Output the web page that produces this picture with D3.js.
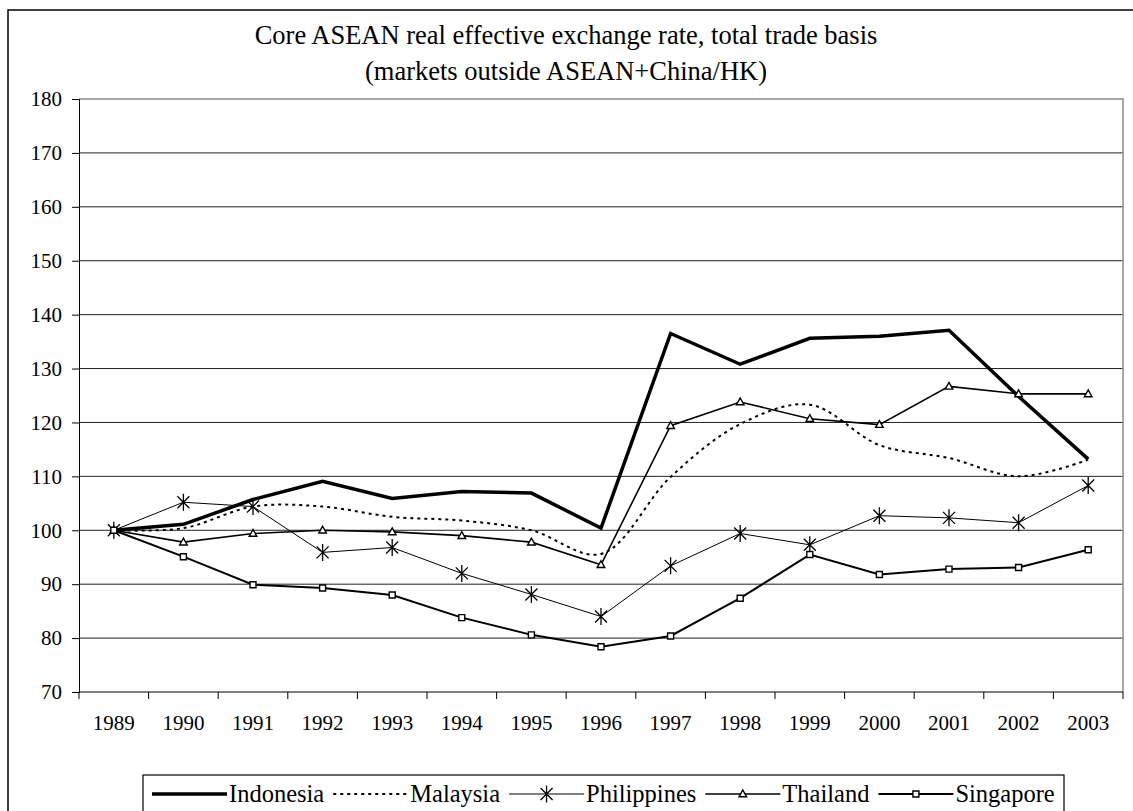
<!DOCTYPE html>
<html><head><meta charset="utf-8">
<script src="https://cdn.jsdelivr.net/npm/d3@7"></script>
<style>
body{margin:0;background:#fff}
text{font-family:"Liberation Serif","Times New Roman",serif;fill:#000}
</style>
</head><body>
<svg id="chart" width="1133" height="811"></svg>
<script>
const years = [1989,1990,1991,1992,1993,1994,1995,1996,1997,1998,1999,2000,2001,2002,2003];
const indonesia   = [100,101.1,105.7,109.1,105.9,107.2,106.9,100.4,136.5,130.8,135.6,136.0,137.1,124.8,113.2];
const malaysia    = [100,100.4,104.4,104.4,102.5,101.8,100.0,95.6,109.9,119.7,123.3,115.8,113.4,110.0,113.1];
const philippines = [100,105.2,104.4,95.9,96.8,92.0,88.1,84.0,93.4,99.4,97.3,102.7,102.3,101.4,108.3];
const thailand    = [100,97.8,99.4,100.0,99.7,99.0,97.8,93.6,119.4,123.8,120.7,119.6,126.7,125.3,125.3];
const singapore   = [100,95.1,89.9,89.3,88.0,83.8,80.6,78.4,80.4,87.4,95.5,91.8,92.8,93.1,96.4];
const yTicks = [70,80,90,100,110,120,130,140,150,160,170,180];
const titleLines = ["Core ASEAN real effective exchange rate, total trade basis","(markets outside ASEAN+China/HK)"];
const seriesNames = ["Indonesia","Malaysia","Philippines","Thailand","Singapore"];

const svg = d3.select("#chart");
const L = 79, R = 1123, T = 99, B = 692;

// outer frame
svg.append("rect").attr("x",8).attr("y",10).attr("width",1150).attr("height",830)
  .attr("fill","none").attr("stroke","#000").attr("stroke-width",1.5);

const x = d3.scaleBand().domain(years).range([L,R]);
const y = d3.scaleLinear().domain([70,180]).range([B,T]);
const cx = d => x(d) + x.bandwidth()/2;

// gridlines
svg.append("g").selectAll("line").data(yTicks.filter(v=>v>70 && v<180)).join("line")
  .attr("x1",L).attr("x2",R).attr("y1",d=>y(d)).attr("y2",d=>y(d))
  .attr("stroke","#222").attr("stroke-width",1);
// top & right border (gray)
svg.append("path").attr("d",`M${L},${y(180)}H${R}V${B}`).attr("fill","none").attr("stroke","#8c8c8c").attr("stroke-width",1.5);

// y axis
const yAxis = svg.append("g").attr("transform",`translate(${L},0)`)
  .call(d3.axisLeft(y).tickValues(yTicks).tickSize(7).tickPadding(10).tickFormat(d3.format("d")));
yAxis.select(".domain").attr("stroke","#000");
yAxis.selectAll(".tick line").attr("stroke","#000");
yAxis.selectAll("text").style("font-family",'"Liberation Serif",serif').style("font-size","21px").attr("fill","#000");

// x axis
svg.append("line").attr("x1",L).attr("x2",R).attr("y1",B).attr("y2",B).attr("stroke","#000");
const bounds = years.map(d=>x(d)).concat([R]);
svg.append("g").selectAll("line").data(bounds).join("line")
  .attr("x1",d=>d).attr("x2",d=>d).attr("y1",B).attr("y2",B+7).attr("stroke","#000");
svg.append("g").selectAll("text").data(years).join("text")
  .attr("x",d=>cx(d)).attr("y",730).attr("text-anchor","middle")
  .style("font-size","21px").text(d=>d);

// title
svg.append("g").selectAll("text").data(titleLines).join("text")
  .attr("x",566).attr("y",(d,i)=>44+i*36).attr("text-anchor","middle")
  .style("font-size","26.5px").text(d=>d);

const mk = (vals) => years.map((yr,i)=>({yr, v: vals[i]}));
const lineGen = d3.line().x(d=>cx(d.yr)).y(d=>y(d.v));
const smoothGen = d3.line().x(d=>cx(d.yr)).y(d=>y(d.v)).curve(d3.curveCatmullRom.alpha(0.5));

const styles = {
  Indonesia:{w:3.5,dash:null,marker:null,gen:lineGen,data:indonesia},
  Malaysia:{w:2,dash:"3,4",marker:null,gen:smoothGen,data:malaysia},
  Philippines:{w:1,dash:null,marker:"star",gen:lineGen,data:philippines},
  Thailand:{w:1.6,dash:null,marker:"tri",gen:lineGen,data:thailand},
  Singapore:{w:2,dash:null,marker:"sq",gen:lineGen,data:singapore}
};
const markerPath = {
  star:"M-6,-6L6,6M-6,6L6,-6M0,-8.5L0,8.5",
  tri:"M0,-4L3.8,2.8L-3.8,2.8Z",
  sq:"M-3,-3H3V3H-3Z"
};
function drawMarker(g, type){
  g.append("path").attr("d",markerPath[type])
   .attr("fill", type==="star" ? "none" : "#fff")
   .attr("stroke","#000").attr("stroke-width", type==="star"?1.3:1.4);
}

seriesNames.forEach(name=>{
  const s = styles[name];
  const data = mk(s.data);
  const g = svg.append("g");
  g.append("path").attr("d",s.gen(data)).attr("fill","none").attr("stroke","#000")
    .attr("stroke-width",s.w).attr("stroke-dasharray",s.dash).attr("stroke-linejoin","miter");
  if(s.marker){
    g.selectAll("g.m").data(data).join("g").attr("class","m")
      .attr("transform",d=>`translate(${cx(d.yr)},${y(d.v)})`)
      .each(function(){ drawMarker(d3.select(this), s.marker); });
  }
});

// legend
const lg = svg.append("g");
lg.append("rect").attr("x",143).attr("y",775).attr("width",921).attr("height",60)
  .attr("fill","#fff").attr("stroke","#000").attr("stroke-width",1.2);
let lx = 152;
const ly = 794;
seriesNames.forEach(name=>{
  const s = styles[name];
  lg.append("line").attr("x1",lx).attr("x2",lx+75).attr("y1",ly).attr("y2",ly)
    .attr("stroke","#000").attr("stroke-width",s.w).attr("stroke-dasharray",s.dash);
  if(s.marker){
    const mg = lg.append("g").attr("transform",`translate(${lx+37.5},${ly})`);
    drawMarker(mg, s.marker);
  }
  const t = lg.append("text").attr("x",lx+77).attr("y",ly+8).style("font-size","24.5px").text(name);
  lx = lx + 77 + t.node().getComputedTextLength() + 9;
});
</script>
</body></html>
